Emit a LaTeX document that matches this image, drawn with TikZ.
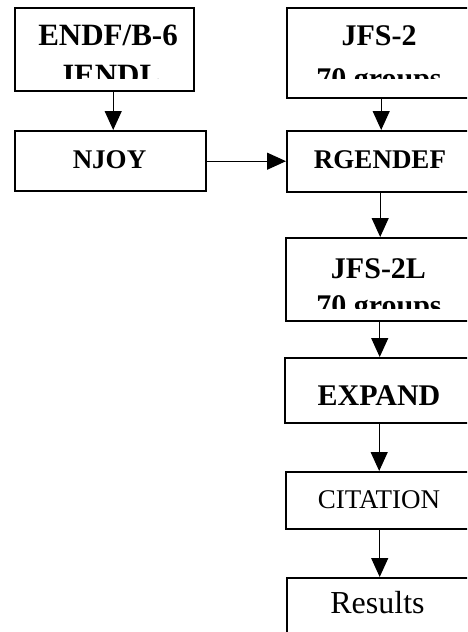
\documentclass[tikz,border=0pt]{standalone}
\usepackage{fontspec}
\setmainfont{Liberation Serif}
\usetikzlibrary{arrows.meta}
\begin{document}
\begin{tikzpicture}[x=1pt,y=-1pt,
  box/.style={draw,line width=2.4pt,inner sep=0pt,anchor=north west},
  lbl/.style={anchor=base,inner sep=0pt},
  arr/.style={line width=1.2pt,-{Triangle[length=19pt,width=17pt]}}]
\useasboundingbox (0,0) rectangle (467,632);
\clip (0,0) rectangle (467,632);
% boxes
\node[box,minimum width=179pt,minimum height=83pt] (endf) at (14,7) {};
\node[box,minimum width=186pt,minimum height=90pt] (jfs2) at (286,7) {};
\node[box,minimum width=191pt,minimum height=60pt] (njoy) at (14,130) {};
\node[box,minimum width=186pt,minimum height=61pt] (rgen) at (286,130) {};
\node[box,minimum width=187pt,minimum height=83pt] (jfs2l) at (285,237) {};
\node[box,minimum width=188pt,minimum height=65pt] (expand) at (284,357) {};
\node[box,minimum width=187pt,minimum height=57pt] (citation) at (285,471) {};
\node[box,minimum width=186pt,minimum height=90pt] (results) at (286,577) {};
% labels
\node[lbl,font=\fontsize{31}{31}\selectfont\bfseries] (t-endf) at (108,45) {ENDF/B-6};
\node[lbl,font=\fontsize{30}{30}\selectfont\bfseries] (t-jfs2) at (379,45) {JFS-2};
\node[lbl,font=\fontsize{27}{27}\selectfont\bfseries] (t-njoy) at (109.5,168) {NJOY};
\node[lbl,font=\fontsize{27}{27}\selectfont\bfseries] (t-rgen) at (380,168) {RGENDEF};
\node[lbl,font=\fontsize{30}{30}\selectfont\bfseries] (t-jfs2l) at (378.5,278) {JFS-2L};
\node[lbl,font=\fontsize{30}{30}\selectfont\bfseries] (t-expand) at (379,405) {EXPAND};
\node[lbl,font=\fontsize{27}{27}\selectfont] (t-citation) at (379,508) {CITATION};
\node[lbl,font=\fontsize{32}{32}\selectfont] (t-results) at (377.5,613) {Results};
\begin{scope}
  \clip (14,7) rectangle (193,78);
  \node[lbl,font=\fontsize{31}{31}\selectfont\bfseries] (t-jendl) at (109.5,85) {JENDL};
\end{scope}
\begin{scope}
  \clip (286,7) rectangle (472,78);
  \node[lbl,font=\fontsize{30}{30}\selectfont\bfseries] (t-g1) at (379,88) {70 groups};
\end{scope}
\begin{scope}
  \clip (285,237) rectangle (472,308);
  \node[lbl,font=\fontsize{30}{30}\selectfont\bfseries] (t-g2) at (379,315) {70 groups};
\end{scope}
% arrows
\draw[arr] (njoy.north |- endf.south) ++(2.5,0) -- ([xshift=2.5pt]njoy.north);
\draw[arr] ([xshift=1pt]jfs2.south) -- ([xshift=1pt]rgen.north);
\draw[arr] (njoy.east) -- (rgen.west |- njoy.east);
\draw[arr] (rgen.south) -- (jfs2l.north -| rgen.south);
\draw[arr] (jfs2l.south) -- (expand.north -| jfs2l.south);
\draw[arr] (expand.south) -- (citation.north -| expand.south);
\draw[arr] (citation.south) -- (results.north -| citation.south);
\end{tikzpicture}
\end{document}
